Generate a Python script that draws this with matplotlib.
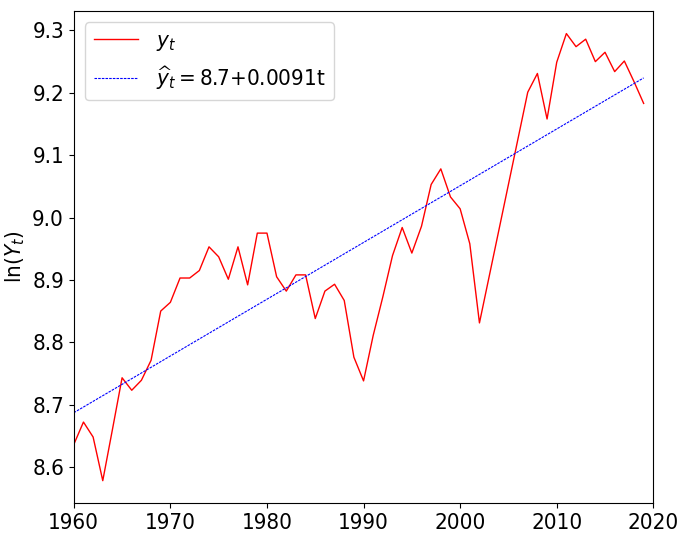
import numpy as np
import matplotlib
matplotlib.use("Agg")
import matplotlib.pyplot as plt

plt.rcParams['font.family'] = ['DejaVu Sans']
plt.rcParams['font.stretch'] = 'condensed'
plt.rcParams['font.size'] = 16

# Yearly log series ln(Y_t), 1960-2019
years = list(range(1960, 2020))
ln_y = [8.636, 8.672, 8.648, 8.578, 8.660, 8.743, 8.723, 8.739, 8.771, 8.850,
        8.864, 8.903, 8.903, 8.915, 8.953, 8.937, 8.901, 8.953, 8.892, 8.975,
        8.975, 8.905, 8.882, 8.908, 8.908, 8.838, 8.882, 8.893, 8.867, 8.776,
        8.738, 8.811, 8.873, 8.939, 8.984, 8.943, 8.986, 9.053, 9.078, 9.033,
        9.014, 8.958, 8.831, 8.905, 8.979, 9.053, 9.127, 9.201, 9.231, 9.158,
        9.249, 9.295, 9.274, 9.286, 9.250, 9.265, 9.234, 9.251, 9.218, 9.183]

# Linear trend coefficients, t = years since 1960
intercept = 8.687
slope = 0.0091

t = np.array(years) - years[0]
trend = intercept + slope * t

fig, ax = plt.subplots(figsize=(6.77, 5.34), dpi=100)
fig.subplots_adjust(left=0.109, right=0.965, bottom=0.058, top=0.979)

ax.plot(years, ln_y, color='red', linewidth=1.0, label=r'$y_t$')
ax.plot(years, trend, color='blue', linewidth=0.8, dashes=(2.3, 1.0),
        label=r'$\widehat{y}_t=$' + f'{intercept:.1f}+{slope:.4f}t')

ax.set_xlim(1960, 2020)
ax.set_ylabel(r'$\ln(Y_t)$')
ax.legend(loc='upper left')

fig.savefig('out.png', dpi=100)
